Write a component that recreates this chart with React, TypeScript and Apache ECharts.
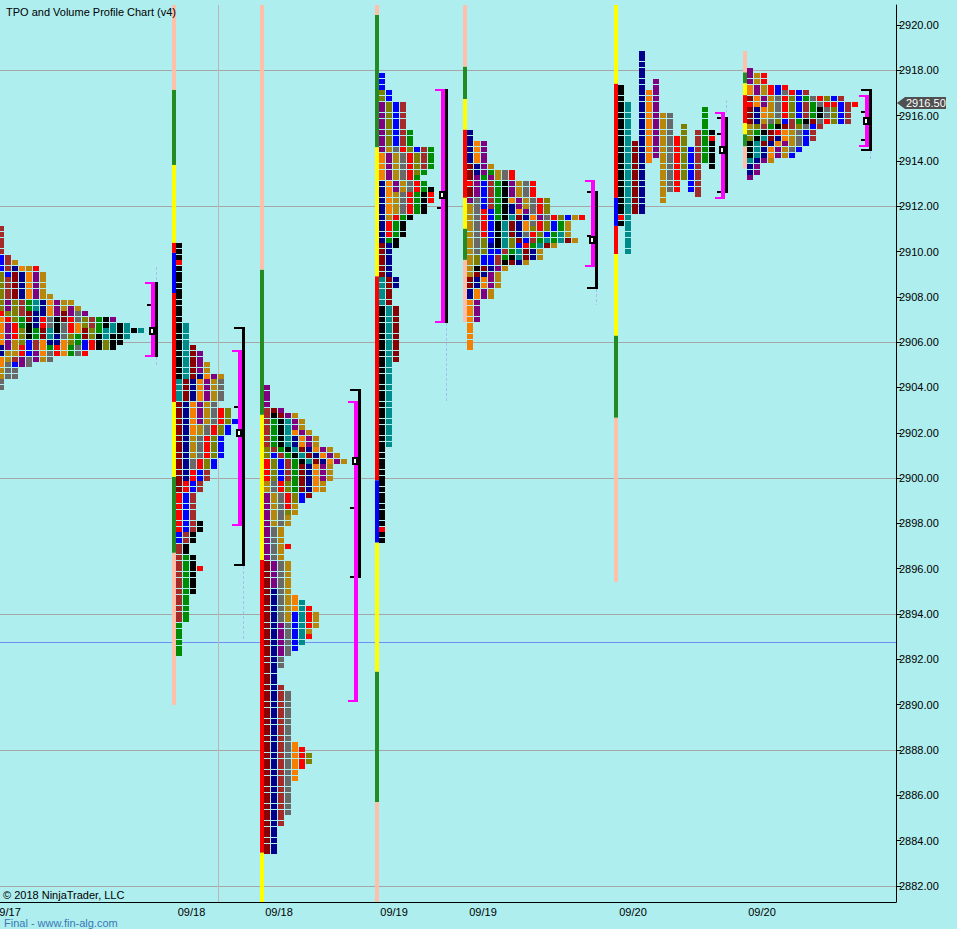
import React, { useEffect, useRef } from "react";
import * as echarts from "echarts";

// ---------- axes / general data ----------
const TICK = 0.25;
const Y_MIN = 2881.29;
const Y_MAX = 2920.88;
const X_SLOTS = 128;
const PRICE_LABELS = [2882, 2884, 2886, 2888, 2890, 2892, 2894, 2896, 2898, 2900, 2902, 2904, 2906, 2908, 2910, 2912, 2914, 2916, 2918, 2920];
const GRID_PRICES = [2882, 2888, 2894, 2900, 2906, 2912, 2918];
const REF_LINE_PRICE = 2892.75;
const LAST_PRICE = 2916.5;
const DATE_LABELS = ["09/17", "09/18", "09/18", "09/19", "09/19", "09/20", "09/20"];
const DATE_SLOTS = [1.0, 27.36, 39.86, 56.29, 69.0, 90.43, 108.86];
const DIVIDER_SLOTS = [31.14];

const CELL_COLORS: Record<string, string> = {
  K: "#000000", T: "#008B8B", R: "#8B0000", N: "#00008B", O: "#F58000",
  P: "#800080", G: "#B8860B", Y: "#696969", r: "#FF0000", L: "#808000",
  B: "#0000FF", W: "#A52A2A", g: "#008C00",
};
const BAR_COLORS: Record<string, string> = { s: "#FFBFA8", f: "#228B22", y: "#FFFF00", r: "#FF0000", B: "#0000FF" };

// ---------- session A (09/17) ----------
const A_SLOT = -0.286;
const A_TOP = 2911.0;
const A_ROWS = [
  "W", "W", "W", "W", "W", "BW", "BWG", "BWNOGr", "LBRNOPG", "LWRNOPG", "LWRNOPG", "LWRNOPG", "LWRNOPGG",
  "LPLWgTNOPGG", "LPLWgTNOPGPG", "rLLWRNNOPRPYP", "OrLgRNrYKRrYLWgKP", "OPrgKNrYKYrOLWgKTKT",
  "OPrLKgRTKYrORLgTTKTKT", "OPrLKgRTNYLgRLKTKKT", "OPGLBWONNOLgBrKLKK", "NPGrBWOgrOgYBrKLK",
  "NGGrBPOYrOgYr", "OGWPYPGY", "OYBPY", "GYY", "GYY", "Y", "Y",
];
const A_BRACKET = { slot: 21.571, va: [2908.66, 2905.35], range: [2908.66, 2905.35], poc: 2906.5, ticks: [2907.64], tails: [[2909.32, 2908.66], [2905.35, 2904.91]] };

// ---------- session B (09/18 overnight) ----------
const B_SLOT = 25.143;
const B_TOP = 2910.25;
const B_PERIODS = [[0, 23], [14, 27], [18, 43], [23, 41], [23, 33], [19, 31], [21, 37], [24, 39], [29, 50], [29, 39], [31, 52], [40, 66], [55, 72], [49, 61], [57, 57]];
const B_PERIOD_COLORS = "KTRNOPGYrLBWgKr";
const B_MARKS = [[0, 3]];
const B_BAR = [[2921, 2917.13, "s"], [2917.13, 2913.82, "f"], [2913.82, 2910.38, "y"], [2910.38, 2909.94, "r"], [2909.94, 2908.17, "B"], [2908.17, 2903.36, "r"], [2903.36, 2900.05, "y"], [2900.05, 2896.7, "f"], [2896.7, 2889.99, "s"]];
const B_BRACKET = { slot: 34.0, va: [2905.66, 2897.89], range: [2906.67, 2896.13], poc: 2902.0, ticks: [2903.14], tails: [[2896.13, 2892.86]] };

// ---------- session C (09/18) ----------
const C_SLOT = 37.714;
const C_TOP = 2904.0;
const C_ROWS = [
  "P", "P", "P", "P", "WRP", "WKRPG", "WgKTPG", "WgKTPG", "WgKTOPG", "WgKTNOPG", "WgKTNOPG", "LWgKTRNOPG",
  "LBWgKTRNOPG", "rLBWgKTRNOPG", "rLBWgRNOPG", "rLBWgRNOPG", "rLBWgRNOPG", "GYrLgRNOG", "GYrLgRNOG", "PGYrLBR",
  "PGYrLB", "PGYrG", "PGYLG", "PGYG", "PGYG", "PYG", "PYG", "PYG", "PYGr", "PYG", "PYG", "RPYG", "RPYG", "RPYG",
  "RPYG", "RPYG", "RNYG", "RNYGO", "RNYGOT", "RNYGOTr", "RNYGBTrG", "RNYGBTrG", "RNPYBTrG", "RNPYBTG", "RNPYBTr",
  "RNPYBT", "RNPYB", "RNPY", "RNY", "RNY", "RN", "RN", "RN", "RNW", "RNWY", "RNWY", "RNWY", "RNWY", "RNWY", "RNWY",
  "RNWY", "RNWY", "RNWY", "RNWYO", "RNWYOr", "RNWYOrL", "RNWYOrL", "RNWYOr", "RNWYO", "RNWYO", "RNWY", "RNWY",
  "RNWY", "RNWY", "RNWY", "RNWY", "RNW", "RNW", "RN", "RN", "RN", "RN", "RN",
];
const C_BAR = [[2921, 2909.19, "s"], [2909.19, 2902.79, "f"], [2902.79, 2896.39, "y"], [2896.39, 2883.46, "r"], [2883.46, 2881, "y"]];
const C_BRACKET = { slot: 50.571, va: [2903.41, 2890.12], range: [2903.94, 2895.6], poc: 2900.75, ticks: [2898.69], tails: [] as number[][] };

// ---------- session D (09/19 overnight) ----------
const D_SLOT = 54.143;
const D_TOP = 2917.75;
const D_PERIODS = [[41, 82], [36, 65], [30, 50], [19, 37], [14, 24], [5, 20], [13, 25], [13, 24], [13, 28], [3, 17], [0, 13], [5, 16], [10, 29], [20, 30], [21, 22]];
const D_PERIOD_COLORS = "KTRNOPGYrLBWgKr";
const D_MARKS = [[0, 80]];
const D_BAR = [[2921, 2920.44, "s"], [2920.44, 2914.6, "f"], [2914.6, 2908.9, "y"], [2908.9, 2899.9, "r"], [2899.9, 2897.15, "B"], [2897.15, 2891.45, "y"], [2891.45, 2885.7, "f"], [2885.7, 2881, "s"]];
const D_BRACKET = { slot: 63.0, va: [2917.18, 2906.85], range: [2917.18, 2906.85], poc: 2912.5, ticks: [2911.92], tails: [[2906.85, 2903.36]] };

// ---------- session E (09/19) ----------
const E_SLOT = 66.714;
const E_TOP = 2915.25;
const E_ROWS = [
  "N", "N", "NOP", "NOP", "NOP", "NOP", "RNPG", "RNPgGYr", "RPgPGYr", "rPBWgKPGYr", "RPBWgKPGYr", "RPBWgKPGYr",
  "PYBWgKOPGYrL", "GYBWgKNPGYrL", "GYrBgKNOPYrL", "GYrBgKTRNOPYrLBGr", "GYrBKTRNOYrLBgG", "GYrBKTRNOLrLBgG",
  "GYrBKTRNYrLBgTG", "GYLBKTLRBWgTgTRG", "GYLNKTLBrgTRG", "GYLBBWgTRNG", "GLBBWgKTRNG", "GLBBWKRNG", "GKRNPG",
  "GRNPG", "RNOPG", "RNOPG", "NOPG", "NOPG", "OP", "OP", "OP", "OP", "O", "O", "O", "O", "O",
];
const E_BAR = [[2921, 2918.15, "s"], [2918.15, 2916.73, "f"], [2916.73, 2915.37, "y"], [2915.37, 2912.37, "r"], [2912.37, 2911.0, "y"], [2911.0, 2909.63, "f"], [2909.63, 2906.89, "s"]];
const E_BRACKET = { slot: 84.429, va: [2913.16, 2909.32], range: [2912.67, 2908.35], poc: 2910.5, ticks: [2910.69], tails: [[2908.35, 2907.64]] };

// ---------- session F (09/20 overnight, split) ----------
const F_SLOT = 88.286;
const F_TOP = 2918.75;
const F_PERIODS = [[6, 30], [9, 35], [16, 28], [0, 28], [7, 19], [5, 18], [11, 26], [11, 24], [15, 24], [13, 22], [17, 24], [14, 25], [10, 19], [14, 20]];
const F_PERIOD_COLORS = "KTRNOPGYrLBWgK";
const F_MARKS = [[0, 29], [13, 15]];
const F_BAR = [[2921, 2917.4, "y"], [2917.4, 2912.37, "r"], [2912.37, 2911.13, "B"], [2911.13, 2909.89, "r"], [2909.89, 2906.28, "y"], [2906.28, 2902.66, "f"], [2902.66, 2895.42, "s"]];
const F_BRACKET = { slot: 103.0, va: [2916.16, 2912.32], range: [2915.94, 2912.59], poc: 2914.5, ticks: [2915.19], tails: [[2916.69, 2916.16]] };

// ---------- session G (09/20) ----------
const G_SLOT = 106.714;
const G_TOP = 2918.0;
const G_ROWS = [
  "P", "PGr", "PGr", "OPGrBr", "OPGrBYrBW", "ROPGYrLBgYrLBW", "rOPGYrLBWgYrrBWr", "RNOGYrLBWgKYLBW",
  "RNOGYrLBWgKYLBW", "RNGYLBWgKRYrLBW", "GLWgKRWLYBW", "LgKRrOGYBW", "LKTRNOGYBW", "KTRNOPGYB", "KTNOPGYB",
  "KTNOPGB", "TNPG", "NP", "NP", "P",
];
const G_BAR = [[2918.85, 2917.9, "s"], [2917.9, 2917.42, "f"], [2917.42, 2916.9, "y"], [2916.9, 2915.66, "r"], [2915.66, 2915.17, "y"], [2915.17, 2914.64, "f"], [2914.64, 2913.67, "s"]];
const G_BRACKET = { slot: 123.571, va: [2916.91, 2914.62], range: [2917.18, 2914.44], poc: 2915.75, ticks: [2916.16, 2914.93], tails: [[2914.44, 2914.04]] };

// ---------- build drawables ----------
type Cell = { x: number; p: number; c: string };
type Bar = { x: number; hi: number; lo: number; c: string };

function rowsToCells(slot: number, top: number, rows: string[]): Cell[] {
  const out: Cell[] = [];
  rows.forEach((row, r) => {
    for (let k = 0; k < row.length; k++) out.push({ x: slot + k, p: top - r * TICK, c: CELL_COLORS[row[k]] });
  });
  return out;
}

function periodsToCells(slot: number, top: number, periods: number[][], colors: string, marks: number[][], split: boolean): Cell[] {
  const out: Cell[] = [];
  const colorOf = (i: number, r: number) =>
    marks.some((m) => m[0] === i && m[1] === r) ? CELL_COLORS.r : CELL_COLORS[colors[i]];
  if (split) {
    periods.forEach(([a, b], i) => {
      for (let r = a; r <= b; r++) out.push({ x: slot + i, p: top - r * TICK, c: colorOf(i, r) });
    });
  } else {
    const maxR = Math.max(...periods.map((p) => p[1]));
    for (let r = 0; r <= maxR; r++) {
      let k = 0;
      periods.forEach(([a, b], i) => {
        if (r >= a && r <= b) {
          out.push({ x: slot + k, p: top - r * TICK, c: colorOf(i, r) });
          k++;
        }
      });
    }
  }
  return out;
}

function barsOf(slot: number, segs: (number | string)[][]): Bar[] {
  return segs.map((s) => ({ x: slot, hi: s[0] as number, lo: s[1] as number, c: BAR_COLORS[s[2] as string] }));
}

const CELLS: Cell[] = [
  ...rowsToCells(A_SLOT, A_TOP, A_ROWS),
  ...periodsToCells(B_SLOT, B_TOP, B_PERIODS, B_PERIOD_COLORS, B_MARKS, false),
  ...rowsToCells(C_SLOT, C_TOP, C_ROWS),
  ...periodsToCells(D_SLOT, D_TOP, D_PERIODS, D_PERIOD_COLORS, D_MARKS, false),
  ...rowsToCells(E_SLOT, E_TOP, E_ROWS),
  ...periodsToCells(F_SLOT, F_TOP, F_PERIODS, F_PERIOD_COLORS, F_MARKS, true),
  ...rowsToCells(G_SLOT, G_TOP, G_ROWS),
];
const BARS: Bar[] = [
  ...barsOf(B_SLOT, B_BAR), ...barsOf(C_SLOT, C_BAR), ...barsOf(D_SLOT, D_BAR),
  ...barsOf(E_SLOT, E_BAR), ...barsOf(F_SLOT, F_BAR), ...barsOf(G_SLOT, G_BAR),
];
const BRACKETS = [A_BRACKET, B_BRACKET, C_BRACKET, D_BRACKET, E_BRACKET, F_BRACKET, G_BRACKET];

const FONT = '"Liberation Sans", Arial, sans-serif';

function buildOption(): any {
  return {
    animation: false,
    backgroundColor: "#AFEEEE",
    grid: { left: 0, right: 61, top: 5, bottom: 27, containLabel: false, outerBoundsMode: "none" },
    xAxis: {
      type: "value", min: 0, max: X_SLOTS,
      axisLine: { show: true, onZero: false, lineStyle: { color: "#000", width: 1 } },
      axisTick: { show: false },
      splitLine: { show: false },
      axisLabel: {
        customValues: DATE_SLOTS, margin: 4, color: "#000", fontSize: 11, lineHeight: 11, fontFamily: FONT,
        hideOverlap: false,
        formatter: (v: number) => {
          let bi = 0;
          DATE_SLOTS.forEach((s, i) => { if (Math.abs(s - v) < Math.abs(DATE_SLOTS[bi] - v)) bi = i; });
          return DATE_LABELS[bi];
        },
      },
    },
    yAxis: {
      type: "value", position: "right", min: Y_MIN, max: Y_MAX,
      axisLine: { show: true, onZero: false, lineStyle: { color: "#000", width: 1 } },
      axisTick: { show: true, customValues: PRICE_LABELS, length: 5, lineStyle: { color: "#000" } },
      splitLine: { show: false },
      axisLabel: {
        customValues: PRICE_LABELS, margin: 3, color: "#000", fontSize: 11, fontFamily: FONT,
        formatter: (v: number) => v.toFixed(2),
      },
    },
    graphic: [
      { type: "text", left: 6, top: 6, z: 50, style: { text: "TPO and Volume Profile Chart (v4)", font: `11px ${FONT}`, fill: "#000" } },
      { type: "text", left: 3, top: 889, z: 50, style: { text: "© 2018 NinjaTrader, LLC", font: `11px ${FONT}`, fill: "#000" } },
      { type: "text", left: 4, top: 917, z: 50, style: { text: "Final - www.fin-alg.com", font: `11px ${FONT}`, lineHeight: 11, fill: "#3A78B8" } },
    ],
    series: [
      {
        type: "custom", z: 1, clip: false,
        data: GRID_PRICES.map((p) => [0, p]),
        renderItem: (params: any, api: any) => {
          const cs = params.coordSys;
          const y = Math.round(api.coord([0, api.value(1)])[1]) + 0.5;
          return { type: "line", shape: { x1: cs.x, y1: y, x2: cs.x + cs.width, y2: y }, style: { stroke: "#A6A6A6", lineWidth: 1 } };
        },
      },
      {
        type: "custom", z: 1, clip: false,
        data: [[0, REF_LINE_PRICE]],
        renderItem: (params: any, api: any) => {
          const cs = params.coordSys;
          const y = Math.round(api.coord([0, api.value(1)])[1]) + 0.5;
          return { type: "line", shape: { x1: cs.x, y1: y, x2: cs.x + cs.width, y2: y }, style: { stroke: "#6F8FF5", lineWidth: 1 } };
        },
      },
      {
        type: "custom", z: 1, clip: false,
        data: DIVIDER_SLOTS.map((s) => [s, Y_MIN]),
        renderItem: (params: any, api: any) => {
          const cs = params.coordSys;
          const x = Math.round(api.coord([api.value(0), Y_MIN])[0]) + 0.5;
          return { type: "line", shape: { x1: x, y1: cs.y, x2: x, y2: cs.y + cs.height }, style: { stroke: "#BDB4B4", lineWidth: 1 } };
        },
      },
      {
        type: "custom", z: 2, clip: true,
        data: BARS.map((b) => [b.x, b.hi, b.lo]),
        renderItem: (params: any, api: any) => {
          const b = BARS[params.dataIndex];
          const t = api.coord([b.x, b.hi]);
          const l = api.coord([b.x, b.lo]);
          return { type: "rect", shape: { x: Math.round(t[0]) - 4, y: t[1], width: 4, height: l[1] - t[1] }, style: { fill: b.c } };
        },
      },
      {
        type: "custom", z: 3, clip: true,
        data: CELLS.map((c) => [c.x, c.p]),
        renderItem: (params: any, api: any) => {
          const c = CELLS[params.dataIndex];
          const pt = api.coord([c.x, c.p]);
          const w = api.size([1, 0])[0];
          return { type: "rect", shape: { x: Math.round(pt[0]), y: Math.round(pt[1] - 2.5), width: Math.round((w * 6) / 7), height: 5 }, style: { fill: c.c } };
        },
      },
      {
        type: "custom", z: 4, clip: false,
        data: BRACKETS.map((b) => [b.slot, b.poc]),
        renderItem: (params: any, api: any) => {
          const b = BRACKETS[params.dataIndex];
          const x0 = Math.round(api.coord([b.slot, b.poc])[0]);
          const Y = (p: number) => Math.round(api.coord([b.slot, p])[1]);
          const ch: any[] = [];
          b.tails.forEach((t) => {
            ch.push({ type: "line", shape: { x1: x0 + 5.5, y1: Y(t[0]), x2: x0 + 5.5, y2: Y(t[1]) }, style: { stroke: "#A9BDF0", lineWidth: 1, lineDash: [3, 2] } });
          });
          const rh = Y(b.range[0]), rl = Y(b.range[1]);
          ch.push({ type: "rect", shape: { x: x0 + 4, y: rh, width: 3, height: rl - rh }, style: { fill: "#000" } });
          ch.push({ type: "rect", shape: { x: x0 - 4, y: rh, width: 11, height: 2 }, style: { fill: "#000" } });
          ch.push({ type: "rect", shape: { x: x0 - 4, y: rl - 2, width: 11, height: 2 }, style: { fill: "#000" } });
          b.ticks.forEach((t) => {
            ch.push({ type: "rect", shape: { x: x0 - 4, y: Y(t) - 1, width: 4, height: 2 }, style: { fill: "#000" } });
          });
          const vh = Y(b.va[0]), vl = Y(b.va[1]);
          ch.push({ type: "rect", shape: { x: x0, y: vh, width: 4, height: vl - vh }, style: { fill: "#FF00FF" } });
          ch.push({ type: "rect", shape: { x: x0 - 6, y: vh, width: 10, height: 2 }, style: { fill: "#FF00FF" } });
          ch.push({ type: "rect", shape: { x: x0 - 6, y: vl - 2, width: 10, height: 2 }, style: { fill: "#FF00FF" } });
          const py = Y(b.poc);
          ch.push({ type: "rect", shape: { x: x0 - 2, y: py - 4, width: 8, height: 8 }, style: { fill: "#000" } });
          ch.push({ type: "rect", shape: { x: x0, y: py - 2, width: 2, height: 4 }, style: { fill: "#FFF" } });
          return { type: "group", children: ch };
        },
      },
      {
        type: "custom", z: 10, clip: false,
        data: [[X_SLOTS, LAST_PRICE]],
        renderItem: (params: any, api: any) => {
          const cs = params.coordSys;
          const x = cs.x + cs.width + 1;
          const y = Math.round(api.coord([X_SLOTS, api.value(1)])[1]) - 1;
          return {
            type: "group",
            children: [
              { type: "polygon", shape: { points: [[x, y], [x + 8, y - 6], [x + 49, y - 6], [x + 49, y + 6], [x + 8, y + 6]] }, style: { fill: "#505050" } },
              { type: "text", style: { text: LAST_PRICE.toFixed(2), x: x + 9, y: y, verticalAlign: "middle", align: "left", fill: "#FFF", font: `11px ${FONT}` } },
            ],
          };
        },
      },
    ],
  };
}

export default function App() {
  const ref = useRef<HTMLDivElement>(null);
  useEffect(() => {
    if (!ref.current) return;
    const chart = echarts.init(ref.current, undefined, { renderer: "svg" });
    chart.setOption(buildOption());
    return () => chart.dispose();
  }, []);
  return <div ref={ref} style={{ position: "fixed", left: 0, top: 0, width: 957, height: 929 }} />;
}
